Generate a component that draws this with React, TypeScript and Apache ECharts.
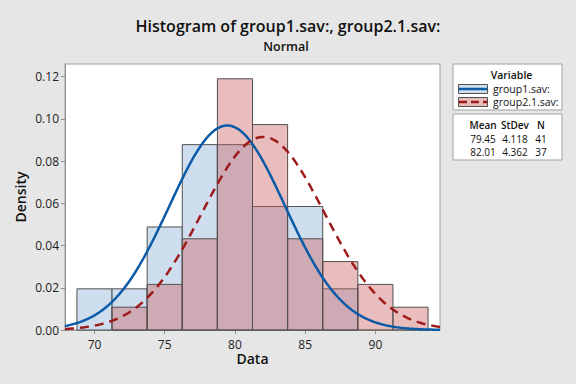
import React, { useEffect, useRef } from "react";
import * as echarts from "echarts";

const xTicks = [70, 75, 80, 85, 90];
const yTicks = [0, 0.02, 0.04, 0.06, 0.08, 0.1, 0.12];
const binWidth = 2.5;
const group1Centers = [70, 72.5, 75, 77.5, 80, 82.5, 85, 87.5];
const group1Density = [0.0195, 0.0195, 0.0488, 0.0878, 0.0878, 0.0585, 0.0585, 0.0195];
const group2Centers = [72.5, 75, 77.5, 80, 82.5, 85, 87.5, 90, 92.5];
const group2Density = [0.0108, 0.0216, 0.0432, 0.119, 0.0973, 0.0432, 0.0324, 0.0216, 0.0108];
const seriesNames = ["group1.sav:", "group2.1.sav:"];
const means = [79.45, 82.01];
const stdevs = [4.118, 4.362];
const counts = [41, 37];

const X_MIN = 67.9;
const X_MAX = 94.6;
const Y_MAX = 0.126;
const FONT = "'Open Sans', 'Noto Sans', sans-serif";

function normalCurve(mu: number, sd: number): number[][] {
  const pts: number[][] = [];
  for (let x = X_MIN; x <= X_MAX + 1e-9; x += 0.1) {
    const z = (x - mu) / sd;
    pts.push([x, Math.exp(-0.5 * z * z) / (sd * Math.sqrt(2 * Math.PI))]);
  }
  return pts;
}

function histSeries(centers: number[], dens: number[], fill: string, z: number) {
  return {
    type: "custom",
    z,
    encode: { x: [0, 1], y: 2 },
    data: centers.map((c, i) => [c - binWidth / 2, c + binWidth / 2, dens[i]]),
    renderItem: (params: any, api: any) => {
      const p0 = api.coord([api.value(0), api.value(2)]);
      const p1 = api.coord([api.value(1), 0]);
      return {
        type: "rect",
        shape: { x: p0[0], y: p0[1], width: p1[0] - p0[0], height: p1[1] - p0[1] },
        style: { fill, stroke: "#505050", lineWidth: 1 },
      };
    },
  };
}

export default function App() {
  const ref = useRef<HTMLDivElement>(null);
  useEffect(() => {
    const chart = echarts.init(ref.current!, undefined, { renderer: "svg" });
    const lx = 453, lw = 109;
    const txt = (text: string, x: number, y: number, font: string, align = "center") => ({
      type: "text",
      x,
      y,
      style: { text, font, fill: "#111", align, verticalAlign: "middle" },
    });
    chart.setOption({
      animation: false,
      backgroundColor: "#e6e6e6",
      grid: {
        left: 65,
        right: 136,
        top: 64,
        bottom: 54,
        show: true,
        backgroundColor: "#ffffff",
        borderColor: "#a0a0a0",
        borderWidth: 1,
      },
      xAxis: {
        type: "value",
        min: X_MIN,
        max: X_MAX,
        name: "Data",
        nameLocation: "middle",
        nameGap: 21,
        nameMoveOverlap: false,
        nameTextStyle: { fontFamily: FONT, fontSize: 14, fontWeight: 600, color: "#111" },
        axisLine: { show: true, lineStyle: { color: "#909090" } },
        axisTick: { show: true, length: 4, customValues: xTicks, lineStyle: { color: "#909090" } },
        axisLabel: { customValues: xTicks, color: "#222", fontFamily: FONT, fontSize: 12, margin: 8 },
        splitLine: { show: false },
      },
      yAxis: {
        type: "value",
        min: 0,
        max: Y_MAX,
        name: "Density",
        nameLocation: "middle",
        nameGap: 38,
        nameMoveOverlap: false,
        nameTextStyle: { fontFamily: FONT, fontSize: 14, fontWeight: 600, color: "#111" },
        axisLine: { show: true, lineStyle: { color: "#909090" } },
        axisTick: { show: true, length: 4, customValues: yTicks, lineStyle: { color: "#909090" } },
        axisLabel: {
          customValues: yTicks,
          color: "#222",
          fontFamily: FONT,
          fontSize: 12,
          margin: 6,
          formatter: (v: number) => v.toFixed(2),
        },
        splitLine: { show: false },
      },
      series: [
        histSeries(group1Centers, group1Density, "#cfdeef", 2),
        histSeries(group2Centers, group2Density, "rgba(203,98,98,0.42)", 3),
        {
          type: "line",
          name: seriesNames[0],
          z: 5,
          showSymbol: false,
          data: normalCurve(means[0], stdevs[0]),
          lineStyle: { color: "#0b5aa8", width: 2.5 },
        },
        {
          type: "line",
          name: seriesNames[1],
          z: 6,
          showSymbol: false,
          data: normalCurve(means[1], stdevs[1]),
          lineStyle: { color: "#9e1a1a", width: 2.5, type: [9, 6] },
        },
      ],
      graphic: [
        txt("Histogram of group1.sav:, group2.1.sav:", 288, 25.5, `600 16px ${FONT}`),
        txt("Normal", 286, 46, `600 12.5px ${FONT}`),
        {
          type: "rect",
          shape: { x: lx, y: 64, width: lw, height: 46 },
          style: { fill: "#fff", stroke: "#a0a0a0", lineWidth: 1 },
        },
        txt("Variable", lx + lw / 2 + 4, 75, `600 10.5px ${FONT}`),
        {
          type: "rect",
          shape: { x: 458.5, y: 84.5, width: 29, height: 9 },
          style: { fill: "#cfdeef", stroke: "#505050", lineWidth: 1 },
        },
        {
          type: "line",
          shape: { x1: 459, y1: 89, x2: 487, y2: 89 },
          style: { stroke: "#0b5aa8", lineWidth: 2.5 },
        },
        txt(seriesNames[0], 493, 89, `10.5px ${FONT}`, "left"),
        {
          type: "rect",
          shape: { x: 458.5, y: 97.5, width: 29, height: 9 },
          style: { fill: "#e9bcbc", stroke: "#505050", lineWidth: 1 },
        },
        {
          type: "line",
          shape: { x1: 459, y1: 102, x2: 487, y2: 102 },
          style: { stroke: "#9e1a1a", lineWidth: 2.5, lineDash: [8, 4] },
        },
        txt(seriesNames[1], 493, 102, `10.5px ${FONT}`, "left"),
        {
          type: "rect",
          shape: { x: lx, y: 114, width: lw, height: 46 },
          style: { fill: "#fff", stroke: "#a0a0a0", lineWidth: 1 },
        },
        ...["Mean", "StDev", "N"].map((h, i) => txt(h, [483, 515, 541][i], 125, `600 10px ${FONT}`)),
        ...means.flatMap((m, r) => [
          txt(m.toFixed(2), 483, 138.5 + r * 13, `10px ${FONT}`),
          txt(stdevs[r].toFixed(3), 515, 138.5 + r * 13, `10px ${FONT}`),
          txt(String(counts[r]), 541, 138.5 + r * 13, `10px ${FONT}`),
        ]),
      ],
    });
    return () => chart.dispose();
  }, []);
  return <div ref={ref} style={{ position: "absolute", left: 0, top: 0, width: 576, height: 384 }} />;
}
